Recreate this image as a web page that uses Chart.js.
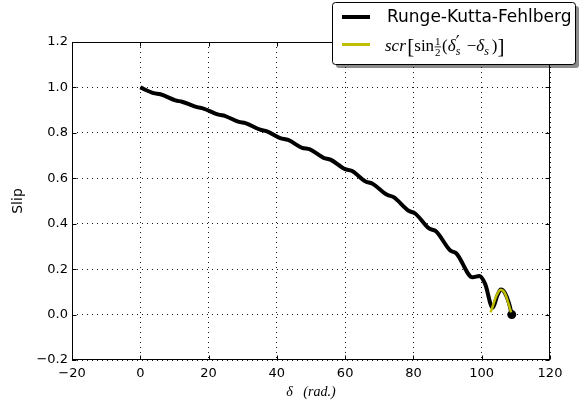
<!DOCTYPE html>
<html>
<head>
<meta charset="utf-8">
<script src="https://cdn.jsdelivr.net/npm/chart.js@4.4.0/dist/chart.umd.min.js"></script>
<style>
  html, body { margin: 0; padding: 0; background: #fff; }
  canvas { display: block; }
</style>
</head>
<body>
<canvas id="chart" width="582" height="405"></canvas>
<script>
/* ========= Data ========= */
const rkfDelta = [0, 3.9, 5.9, 10.3, 12.2, 16.6, 18.5, 22.9, 24.9, 28.9, 30.8, 35.1, 37.1, 41.0, 43.3,
  47.4, 49.7, 53.7, 55.7, 60.0, 61.9, 66.0, 67.9, 72.3, 74.2, 78.6, 80.5, 84.6, 86.6, 90.8, 92.6,
  97.3, 99.3, 101.0, 103.2, 104.6, 105.6, 106.8, 108.0, 108.8];
const rkfSlip = [1.0, 0.975, 0.970, 0.943, 0.937, 0.913, 0.907, 0.880, 0.874, 0.848, 0.843, 0.814, 0.807, 0.777, 0.769,
  0.734, 0.727, 0.690, 0.682, 0.640, 0.633, 0.586, 0.577, 0.527, 0.517, 0.457, 0.445, 0.379, 0.367, 0.282, 0.269,
  0.164, 0.170, 0.135, 0.030, 0.085, 0.110, 0.095, 0.050, 0.0];

const approxDelta = [102.6, 103.3, 104.0, 104.8, 105.5, 106.3, 107.1, 107.8, 108.6];
const approxSlip = [0.010, 0.040, 0.072, 0.098, 0.109, 0.104, 0.083, 0.050, 0.010];

const xTicks = [-20, 0, 20, 40, 60, 80, 100, 120];
const yTicks = [-0.2, 0.0, 0.2, 0.4, 0.6, 0.8, 1.0, 1.2];

const seriesLabels = ["Runge-Kutta-Fehlberg", "scr[sin½(δ′s −δs)]"];

/* ========= Helpers ========= */
function toPoints(xs, ys) {
  return xs.map((x, i) => ({ x: x, y: ys[i] }));
}
function fmtMinus(s) {
  return String(s).replace("-", "\u2212");
}

/* ========= Frame + inward ticks (matplotlib look) ========= */
const framePlugin = {
  id: "frame",
  afterDatasetsDraw(chart) {
    const { ctx, chartArea: a, scales } = chart;
    const L = Math.round(a.left) + 0.5, R = Math.round(a.right) - 0.5;
    const T = Math.round(a.top) + 0.5, B = Math.round(a.bottom) - 0.5;
    ctx.save();
    ctx.strokeStyle = "#000";
    ctx.lineWidth = 1;
    ctx.strokeRect(L, T, R - L, B - T);
    ctx.beginPath();
    xTicks.forEach(v => {
      const px = Math.round(scales.x.getPixelForValue(v)) + 0.5;
      ctx.moveTo(px, B); ctx.lineTo(px, B - 4);
      ctx.moveTo(px, T); ctx.lineTo(px, T + 4);
    });
    yTicks.forEach(v => {
      const py = Math.round(scales.y.getPixelForValue(v)) + 0.5;
      ctx.moveTo(L, py); ctx.lineTo(L + 4, py);
      ctx.moveTo(R, py); ctx.lineTo(R - 4, py);
    });
    ctx.stroke();
    ctx.restore();
  }
};

/* ========= Legend box (drawn by hand, with shadow) ========= */
function drawMathLabel(ctx, x, y) {
  const it = 'italic 17px "Liberation Serif"';
  const up = '17px "Liberation Serif"';
  const big = '21px "Liberation Serif"';
  const sm = '11px "Liberation Serif"';
  const smi = 'italic 12px "Liberation Serif"';
  ctx.textBaseline = "alphabetic";
  ctx.textAlign = "left";
  const put = (txt, font, dy, adv = true) => {
    ctx.font = font;
    ctx.fillText(txt, x, y + dy);
    const w = ctx.measureText(txt).width;
    if (adv) x += w;
    return w;
  };
  put("scr", it, 0);
  x += 1.5;
  put("[", big, 2);
  put("sin", up, 0);
  // fraction 1/2
  const fx = x;
  ctx.font = sm;
  const fw = ctx.measureText("1").width;
  ctx.fillText("1", fx + 1, y - 6);
  ctx.fillText("2", fx + 1, y + 5);
  ctx.fillRect(fx + 0.5, y - 4.5, fw + 1, 0.8);
  x = fx + fw + 2.5;
  put("(", up, 0);
  put("δ", it, 0);
  const sx = x;
  put("\u2032", '17px "DejaVu Sans"', -3, false);
  put("s", smi, 4);
  x = Math.max(x, sx + 6) + 5;
  put("\u2212", up, 0);
  put("δ", it, 0);
  put("s", smi, 4);
  x += 3;
  put(")", up, 0);
  put("]", big, 2);
}

const legendPlugin = {
  id: "mplLegend",
  afterDraw(chart) {
    const { ctx } = chart;
    const bx = 332, by = 2, bw = 243, bh = 62;
    ctx.save();
    // shadow
    ctx.fillStyle = "rgba(0,0,0,0.45)";
    ctx.beginPath();
    ctx.roundRect(bx + 4, by + 4, bw, bh, 3);
    ctx.fill();
    // box
    ctx.fillStyle = "#fff";
    ctx.strokeStyle = "#000";
    ctx.lineWidth = 1;
    ctx.beginPath();
    ctx.roundRect(bx + 0.5, by + 0.5, bw, bh, 3);
    ctx.fill();
    ctx.stroke();

    const ds = chart.data.datasets;
    // entry 1
    ctx.strokeStyle = ds[0].borderColor;
    ctx.lineWidth = ds[0].borderWidth;
    ctx.beginPath();
    ctx.moveTo(342, 17); ctx.lineTo(370, 17);
    ctx.stroke();
    ctx.fillStyle = "#000";
    ctx.font = '17px "DejaVu Sans"';
    ctx.textBaseline = "middle";
    ctx.fillText(ds[0].label, 387, 18);
    // entry 2
    ctx.strokeStyle = ds[1].borderColor;
    ctx.lineWidth = 3;
    ctx.beginPath();
    ctx.moveTo(342, 44.5); ctx.lineTo(370, 44.5);
    ctx.stroke();
    ctx.fillStyle = "#000";
    drawMathLabel(ctx, 385, 51);
    ctx.restore();
  }
};

/* ========= Chart ========= */
const tickFont = { family: '"DejaVu Sans"', size: 13 };
const gridStyle = { color: "rgba(0,0,0,0.9)", lineWidth: 1, drawTicks: false };

new Chart(document.getElementById("chart").getContext("2d"), {
  type: "line",
  data: {
    datasets: [
      {
        label: seriesLabels[0],
        data: toPoints(rkfDelta, rkfSlip),
        borderColor: "#000",
        borderWidth: 4,
        order: 1,
        cubicInterpolationMode: "monotone",
        pointRadius: ctx => ctx.dataIndex === rkfDelta.length - 1 ? 4.5 : 0,
        pointBackgroundColor: "#000",
        pointBorderWidth: 0,
        fill: false
      },
      {
        label: seriesLabels[1],
        data: toPoints(approxDelta, approxSlip),
        borderColor: "#bfbf00",
        borderWidth: 2.5,
        order: 0,
        cubicInterpolationMode: "monotone",
        pointRadius: 0,
        fill: false
      }
    ]
  },
  options: {
    responsive: false,
    animation: false,
    layout: { padding: { top: 42, right: 32, left: 0, bottom: 0 } },
    plugins: {
      legend: { display: false },
      tooltip: { enabled: false }
    },
    scales: {
      x: {
        type: "linear",
        min: -20,
        max: 120,
        afterBuildTicks: s => { s.ticks = xTicks.map(v => ({ value: v })); },
        afterFit: s => { s.height = 45; },
        ticks: {
          color: "#000",
          font: tickFont,
          padding: 6,
          maxRotation: 0,
          callback: v => fmtMinus(v)
        },
        grid: gridStyle,
        border: { display: false, dash: [1, 4] },
        title: {
          display: true,
          text: "δ   (rad.)",
          color: "#000",
          font: { family: '"Liberation Serif"', style: "italic", size: 14 },
          padding: { top: 0, bottom: 4 }
        }
      },
      y: {
        type: "linear",
        min: -0.2,
        max: 1.2,
        afterBuildTicks: s => { s.ticks = yTicks.map(v => ({ value: v })); },
        afterFit: s => { s.width = 72; },
        ticks: {
          color: "#000",
          font: tickFont,
          padding: 4,
          callback: v => fmtMinus(Number(v).toFixed(1))
        },
        grid: gridStyle,
        border: { display: false, dash: [1, 4] },
        title: {
          display: true,
          text: "Slip",
          color: "#000",
          font: { family: '"DejaVu Sans"', size: 14 },
          padding: { top: 10, bottom: 0 }
        }
      }
    }
  },
  plugins: [framePlugin, legendPlugin]
});
</script>
</body>
</html>
